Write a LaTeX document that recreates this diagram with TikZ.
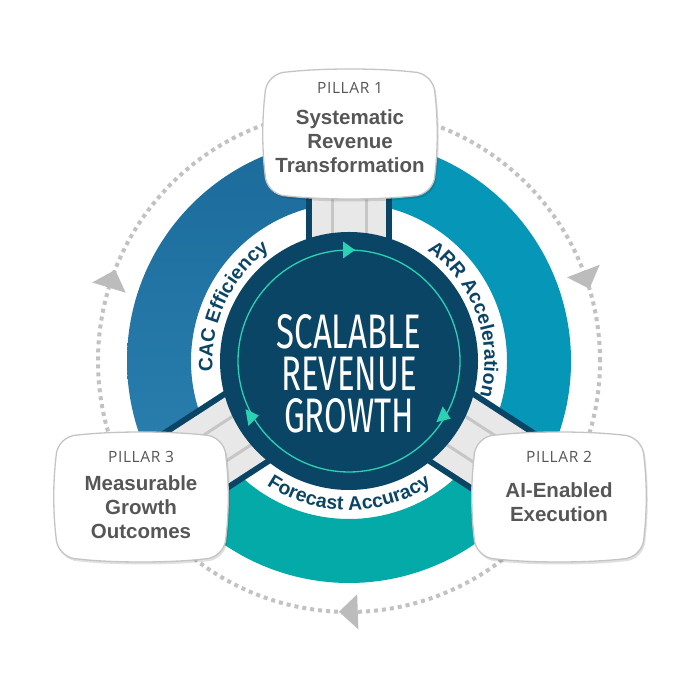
\documentclass[tikz,border=0pt]{standalone}
\usepackage{fontspec}
\setmainfont{Liberation Sans}
\newfontfamily\condfont[FakeStretch=0.68]{Fira Sans}
\newfontfamily\pillfont[LetterSpace=4]{Open Sans}
\usetikzlibrary{decorations.text}
\definecolor{navy}{HTML}{0B4566}
\definecolor{tealline}{HTML}{28D2B2}
\definecolor{ringAtop}{HTML}{1B6B9B}
\definecolor{ringAbot}{HTML}{2A80AF}
\definecolor{ringB}{HTML}{0696B8}
\definecolor{ringC}{HTML}{03AAA7}
\definecolor{bridge}{HTML}{E8E8E8}
\definecolor{bridgeline}{HTML}{C6C6C6}
\definecolor{dotgrey}{HTML}{C2C2C2}
\definecolor{trigrey}{HTML}{BDBCBC}
\definecolor{boxedge}{HTML}{C4C4C4}
\definecolor{txtgrey}{HTML}{565658}
\newcommand{\curvefont}{\fontsize{19.5}{21}\selectfont\bfseries}
\tikzset{
  cushionpath/.style={insert path={(-63,62) .. controls (-28,66) and (28,66) .. (63,62)
    .. controls (75,62) and (85,52) .. (85,40)
    .. controls (88,14) and (88,-14) .. (85,-40)
    .. controls (85,-52) and (75,-62) .. (63,-62)
    .. controls (28,-66) and (-28,-66) .. (-63,-62)
    .. controls (-75,-62) and (-85,-52) .. (-85,-40)
    .. controls (-88,-14) and (-88,14) .. (-85,40)
    .. controls (-85,52) and (-75,62) .. (-63,62) -- cycle}},
  boxline/.style={draw=boxedge, line width=1.3pt, fill=white},
  pilllabel/.style={text=txtgrey, font=\pillfont\fontsize{15.5}{18}\selectfont},
  pilltitle/.style={text=txtgrey, align=center, font=\fontsize{20.5}{24}\selectfont\bfseries},
  arrowtri/.style={fill=tealline},
  bigtri/.style={fill=trigrey},
}
\newcommand{\pillarbox}[2]{%
  \begin{scope}[shift={(#1,#2)}]
    \path[fill=black, opacity=0.12, shift={(1.5,-2.5)}, cushionpath];
    \path[boxline, cushionpath];
  \end{scope}}
\newcommand{\bridgebar}[1]{%
  \begin{scope}[rotate=#1]
    \fill[navy] (0,-43) rectangle (235,43);
    \fill[bridge] (0,-37) rectangle (235,37);
    \draw[bridgeline, line width=3pt] (0,17) -- (235,17) (0,-17) -- (235,-17);
  \end{scope}}
\begin{document}
\begin{tikzpicture}[x=1pt,y=1pt]
\useasboundingbox (0,0) rectangle (700,700);
\fill[white] (0,0) rectangle (700,700);
\coordinate (C) at (349,339);
\begin{scope}[shift={(C)}]
  % dotted cycle
  \draw[dotgrey, line width=4pt, dash pattern=on 4pt off 4pt] (0,0) circle[radius=251];
  \foreach \b in {163,21,272}{
    \fill[bigtri] (\b:233.5) -- (\b-4.3:251) -- (\b:268.5) -- cycle;
  }
  % ring segments
  \shade[top color=ringAtop, bottom color=ringAbot] (90:222) arc[start angle=90, end angle=213, radius=222] -- (213:158) arc[start angle=213, end angle=90, radius=158] -- cycle;
  \fill[ringB] (-33:222) arc[start angle=-33, end angle=90, radius=222] -- (90:158) arc[start angle=90, end angle=-33, radius=158] -- cycle;
  \fill[ringC] (213:222) arc[start angle=213, end angle=327, radius=222] -- (327:158) arc[start angle=327, end angle=213, radius=158] -- cycle;
  % bridges
  \bridgebar{90}
  \bridgebar{213}
  \bridgebar{-33}
  % core
  \fill[navy] (0,0) circle[radius=129];
  \draw[tealline, line width=1.3pt] (0,0) circle[radius=111];
  \begin{scope}[shift={(90:111)}]\fill[arrowtri] (6,0) -- (-6,8.5) -- (-6,-8.5) -- cycle;\end{scope}
  \begin{scope}[shift={(210:111)}, rotate=10]\fill[arrowtri] (6,0) -- (-6,8.5) -- (-6,-8.5) -- cycle;\end{scope}
  \begin{scope}[shift={(330:111)}, rotate=-22]\fill[arrowtri] (6,0) -- (-6,8.5) -- (-6,-8.5) -- cycle;\end{scope}
  % curved labels
  \path[decorate, decoration={text along path, text align=center, text color=navy, text={|\curvefont|CAC Efficiency}}] (200:136.5) arc[start angle=200, end angle=110, radius=136.5];
  \path[decorate, decoration={text along path, text align=center, text color=navy, text={|\curvefont|ARR Acceleration}}] (72:135.5) arc[start angle=72, end angle=-32, radius=135.5];
  \path[decorate, decoration={text along path, text align=center, text color=navy, text={|\curvefont|Forecast Accuracy}}] (218:149) arc[start angle=218, end angle=322, radius=149];
\end{scope}
\node[text=white, align=center, font=\condfont\fontsize{48.5}{42}\selectfont] (core) at (349,326) {SCALABLE\\REVENUE\\GROWTH};
% pillars
\pillarbox{350}{566}
\pillarbox{141}{203}
\pillarbox{559}{203}
\node[pilllabel] (p1l) at (350,612) {PILLAR 1};
\node[pilltitle] (p1t) at (350,559) {Systematic\\Revenue\\Transformation};
\node[pilllabel] (p3l) at (141,243) {PILLAR 3};
\node[pilltitle] (p3t) at (141,193) {Measurable\\Growth\\Outcomes};
\node[pilllabel] (p2l) at (559,243) {PILLAR 2};
\node[pilltitle] (p2t) at (559,198) {AI-Enabled\\Execution};
\end{tikzpicture}
\end{document}
